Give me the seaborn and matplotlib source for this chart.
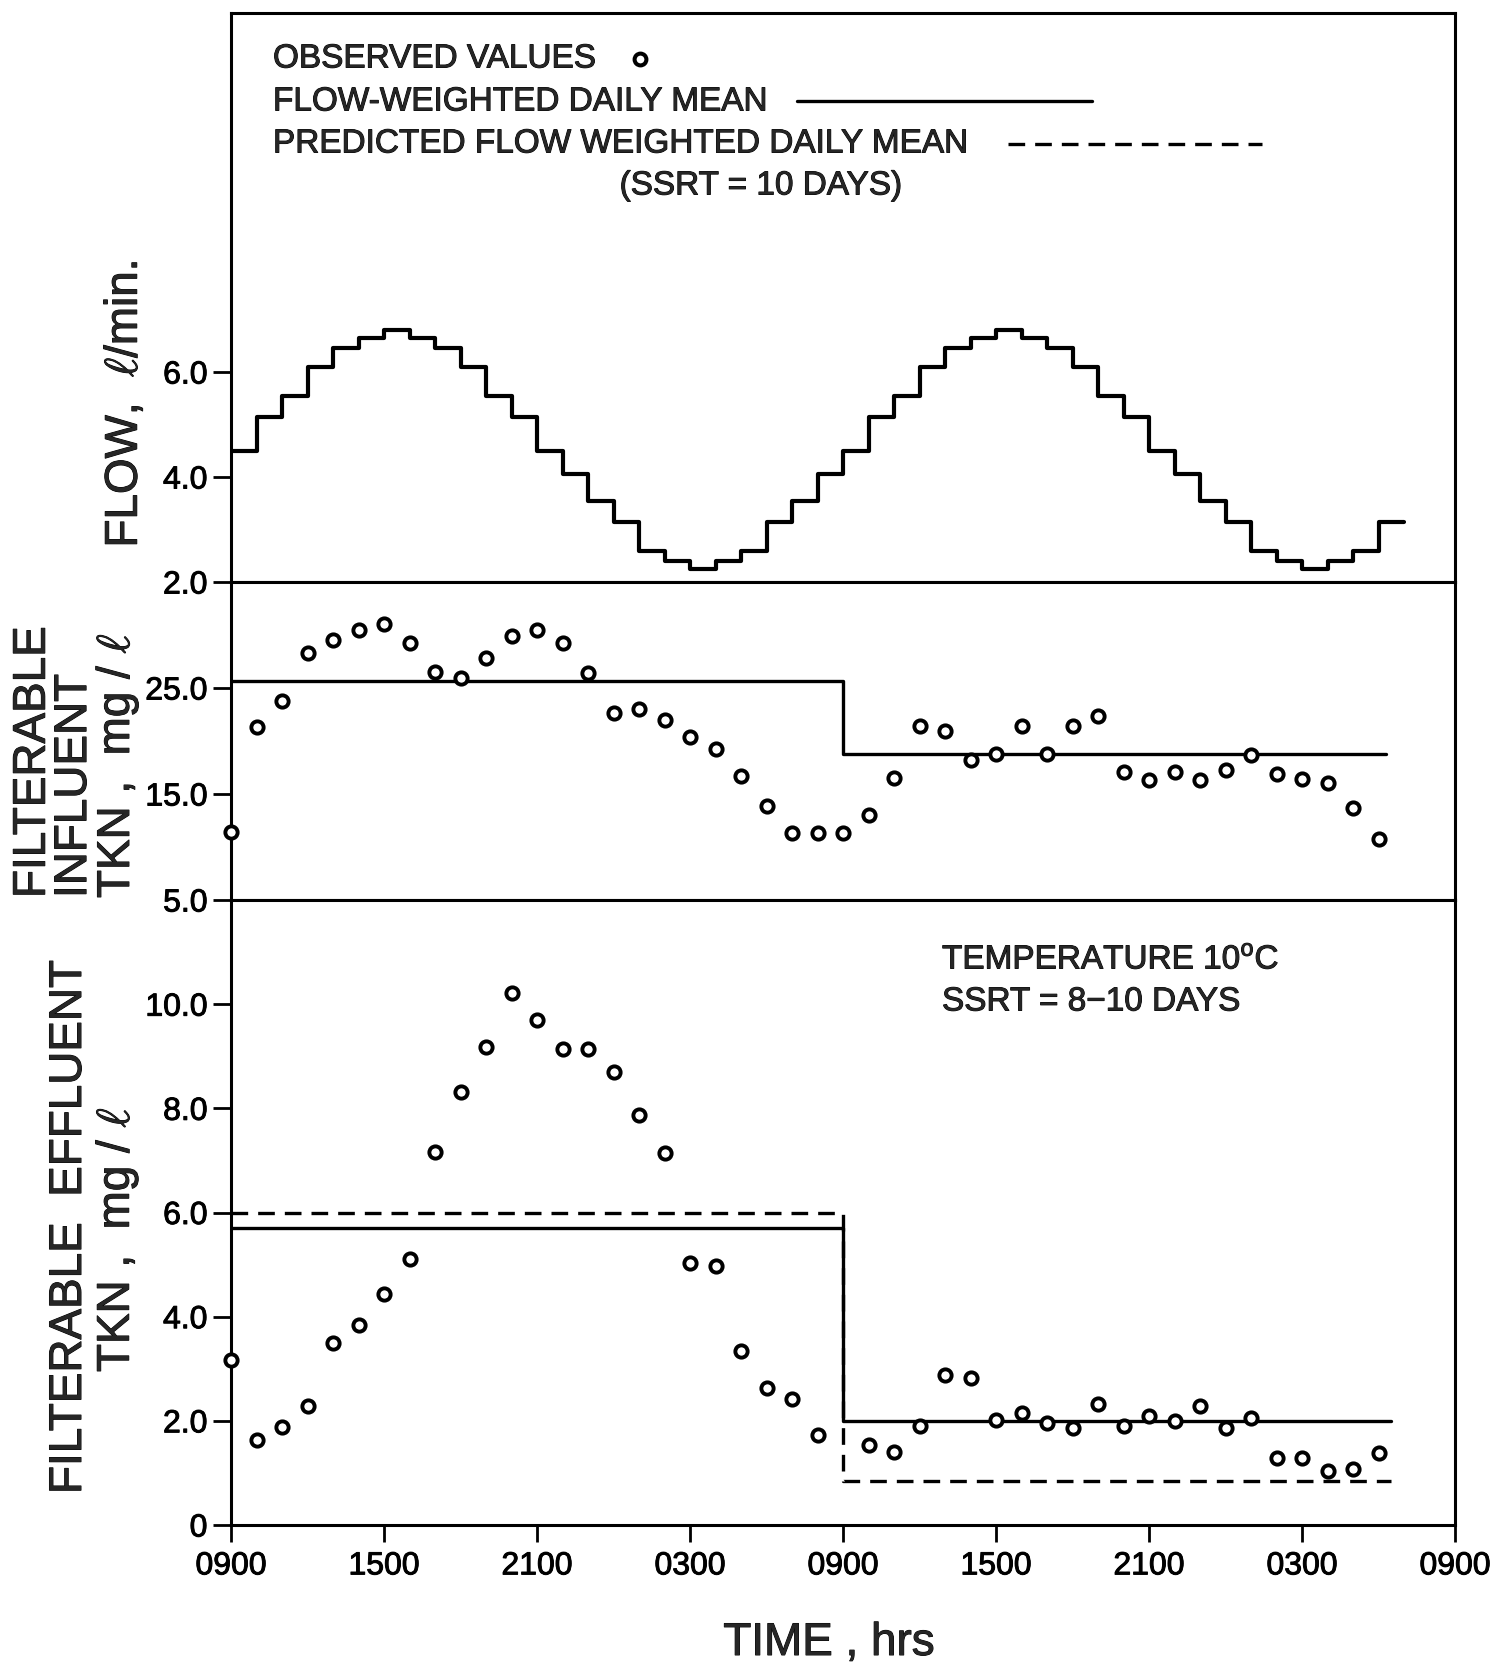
import matplotlib
matplotlib.use("Agg")
import matplotlib.pyplot as plt
import matplotlib.patheffects as pe
from matplotlib.lines import Line2D
import pandas as pd
import seaborn as sns

# ---- data: hours after 0900 on day one ----
flow_hours = list(range(0, 47))
flow_lpm = [4.5, 5.15, 5.55, 6.1, 6.45, 6.65, 6.8, 6.65, 6.45, 6.1, 5.55, 5.15,
            4.5, 4.05, 3.55, 3.15, 2.6, 2.4, 2.25, 2.4, 2.6, 3.15, 3.55, 4.05,
            4.5, 5.15, 5.55, 6.1, 6.45, 6.65, 6.8, 6.65, 6.45, 6.1, 5.55, 5.15,
            4.5, 4.05, 3.55, 3.15, 2.6, 2.4, 2.25, 2.4, 2.6, 3.15, 3.15]

influent_hours = list(range(0, 46))
influent_tkn = [11.4, 21.3, 23.8, 28.3, 29.5, 30.5, 31.0, 29.2, 26.5, 25.9, 27.8, 29.9,
                30.5, 29.2, 26.4, 22.6, 23.0, 22.0, 20.4, 19.2, 16.7, 13.9, 11.3, 11.3,
                11.3, 13.0, 16.5, 21.4, 20.9, 18.2, 18.8, 21.4, 18.8, 21.4, 22.4, 17.1,
                16.3, 17.1, 16.3, 17.3, 18.7, 16.9, 16.4, 16.0, 13.7, 10.8]

effluent_hours = list(range(0, 24)) + list(range(25, 46))
effluent_tkn = [3.16, 1.64, 1.88, 2.29, 3.49, 3.84, 4.43, 5.10, 7.16, 8.32, 9.18, 10.22,
                9.69, 9.13, 9.14, 8.70, 7.88, 7.15, 5.04, 4.98, 3.34, 2.63, 2.42, 1.72,
                1.53, 1.41, 1.91, 2.88, 2.83, 2.02, 2.15, 1.95, 1.86, 2.32, 1.90, 2.10,
                2.00, 2.29, 1.86, 2.06, 1.28, 1.29, 1.03, 1.07, 1.38]

influent_mean_hours = [0, 24, 45.3]
influent_mean = [25.7, 18.8, 18.8]

effluent_mean_hours = [0, 24, 45.5]
effluent_mean = [5.7, 2.0, 2.0]
effluent_predicted = [6.0, 0.85, 0.85]

time_ticks = [0, 6, 12, 18, 24, 30, 36, 42, 48]
time_labels = ["0900", "1500", "2100", "0300", "0900", "1500", "2100", "0300", "0900"]

flow_ticks, flow_tick_labels = [2, 4, 6], ["2.0", "4.0", "6.0"]
influent_ticks, influent_tick_labels = [5, 15, 25], ["5.0", "15.0", "25.0"]
effluent_ticks = [0, 2, 4, 6, 8, 10]
effluent_tick_labels = ["0", "2.0", "4.0", "6.0", "8.0", "10.0"]

# ---- style ----
sns.set_style("ticks")
plt.rcParams["font.family"] = ["Liberation Sans", "DejaVu Sans"]
plt.rcParams["mathtext.fontset"] = "custom"
plt.rcParams["mathtext.rm"] = "Liberation Sans"
plt.rcParams["axes.edgecolor"] = "black"
plt.rcParams["axes.linewidth"] = 2.0

INK = [pe.withStroke(linewidth=0.7, foreground="black")]

W, H = 1494, 1667
fig = plt.figure(figsize=(W / 100, H / 100), dpi=100)
fig.patch.set_facecolor("white")


def fx(px):
    return px / W


def fy(py):
    return 1 - py / H


LEFT, RIGHT = 231, 1455
edges = [13, 582, 900, 1525]
axes = []
for top, bot in zip(edges[:-1], edges[1:]):
    ax = fig.add_axes([fx(LEFT), fy(bot), (RIGHT - LEFT) / W, (bot - top) / H])
    axes.append(ax)
ax_flow, ax_inf, ax_eff = axes

LINE_KW = dict(color="black", estimator=None, legend=False)
DOT_KW = dict(marker="o", s=78, color="white", edgecolor="black", linewidth=2.8,
              zorder=5, clip_on=False, legend=False)
DASH = (0, (5, 3))

# flow step trace
flow_df = pd.DataFrame({"hour": flow_hours, "flow": flow_lpm})
sns.lineplot(data=flow_df, x="hour", y="flow", ax=ax_flow,
             drawstyle="steps-post", lw=3.0, **LINE_KW)

# influent TKN
inf_df = pd.DataFrame({"hour": influent_hours, "tkn": influent_tkn})
inf_mean_df = pd.DataFrame({"hour": influent_mean_hours, "tkn": influent_mean})
sns.lineplot(data=inf_mean_df, x="hour", y="tkn", ax=ax_inf,
             drawstyle="steps-post", lw=2.4, **LINE_KW)
sns.scatterplot(data=inf_df, x="hour", y="tkn", ax=ax_inf, **DOT_KW)

# effluent TKN
eff_df = pd.DataFrame({"hour": effluent_hours, "tkn": effluent_tkn})
eff_mean_df = pd.DataFrame({"hour": effluent_mean_hours, "mean": effluent_mean,
                            "pred": effluent_predicted})
sns.lineplot(data=eff_mean_df, x="hour", y="mean", ax=ax_eff,
             drawstyle="steps-post", lw=2.4, **LINE_KW)
sns.lineplot(data=eff_mean_df, x="hour", y="pred", ax=ax_eff,
             drawstyle="steps-post", lw=2.4, linestyle=DASH, **LINE_KW)
sns.scatterplot(data=eff_df, x="hour", y="tkn", ax=ax_eff, **DOT_KW)

# ---- axes formatting ----
TICK_FS = 23
for ax in axes:
    ax.set_xlim(0, 48)
    ax.set_xlabel("")
    ax.set_ylabel("")
    ax.set_facecolor("white")
    for sp in ax.spines.values():
        sp.set_visible(True)
        sp.set_linewidth(2.2)
        sp.set_color("black")
    ax.tick_params(axis="y", direction="out", length=13, width=2.0,
                   labelsize=TICK_FS, pad=4, colors="black")
    ax.tick_params(axis="x", direction="out", length=12, width=2.0,
                   labelsize=TICK_FS, pad=7, colors="black")
    ax.set_xticks(time_ticks)

for ax in (ax_flow, ax_inf):
    ax.tick_params(axis="x", bottom=False, labelbottom=False)
ax_eff.set_xticklabels(time_labels)

ax_flow.set_ylim(2, 12.84)
ax_flow.set_yticks(flow_ticks)
ax_flow.set_yticklabels(flow_tick_labels)

ax_inf.set_ylim(5, 35)
ax_inf.set_yticks(influent_ticks)
ax_inf.set_yticklabels(influent_tick_labels)

ax_eff.set_ylim(0, 12)
ax_eff.set_yticks(effluent_ticks)
ax_eff.set_yticklabels(effluent_tick_labels)

for ax in axes:
    for lab in ax.get_xticklabels() + ax.get_yticklabels():
        lab.set_path_effects(INK)

# ---- axis titles ----
LAB_FS = 33
TITLE_KW = dict(fontsize=LAB_FS, path_effects=INK, math_fontfamily="cm")
UNIT = "mg / $\\ell$"
fig.text(fx(125), fy(404), "FLOW,  $\\ell$/min.", rotation=90, ha="center",
         va="center", **TITLE_KW)
fig.text(fx(76), fy(898), "FILTERABLE\nINFLUENT\nTKN ,  " + UNIT, rotation=90,
         ha="center", va="bottom", multialignment="left", linespacing=0.92,
         **TITLE_KW)
fig.text(fx(69), fy(1494), "FILTERABLE  EFFLUENT", rotation=90, ha="center",
         va="bottom", **TITLE_KW)
fig.text(fx(117), fy(1372), "TKN ,  " + UNIT, rotation=90, ha="center",
         va="bottom", **TITLE_KW)
fig.text(fx(829), fy(1643), "TIME , hrs", ha="center", va="center", **TITLE_KW)

# ---- key ----
KEY_FS = 24
fig.text(fx(273), fy(59), "OBSERVED VALUES", ha="left", va="center", fontsize=KEY_FS,
         path_effects=INK)
fig.text(fx(273), fy(102), "FLOW-WEIGHTED DAILY MEAN", ha="left", va="center",
         fontsize=KEY_FS, path_effects=INK)
fig.text(fx(273), fy(144), "PREDICTED FLOW WEIGHTED DAILY MEAN", ha="left",
         va="center", fontsize=KEY_FS, path_effects=INK)
fig.text(fx(761), fy(186), "(SSRT = 10 DAYS)", ha="center", va="center",
         fontsize=KEY_FS, path_effects=INK)
fig.add_artist(Line2D([fx(640)], [fy(59)], transform=fig.transFigure, marker="o",
                      ms=8.5, mew=2.9, mfc="white", mec="black", linestyle="none"))
fig.add_artist(Line2D([fx(797), fx(1092)], [fy(101), fy(101)],
                      transform=fig.transFigure, color="black", lw=2.4))
fig.add_artist(Line2D([fx(1008), fx(1262)], [fy(144), fy(144)],
                      transform=fig.transFigure, color="black", lw=2.4,
                      linestyle=DASH))

# ---- run conditions ----
fig.text(fx(942), fy(960), "TEMPERATURE 10$^{\\rm o}$C", ha="left", va="center",
         fontsize=KEY_FS, path_effects=INK)
fig.text(fx(942), fy(1002), "SSRT = 8\u221210 DAYS", ha="left", va="center",
         fontsize=KEY_FS, path_effects=INK)

fig.savefig("out.png", dpi=100, facecolor="white")
